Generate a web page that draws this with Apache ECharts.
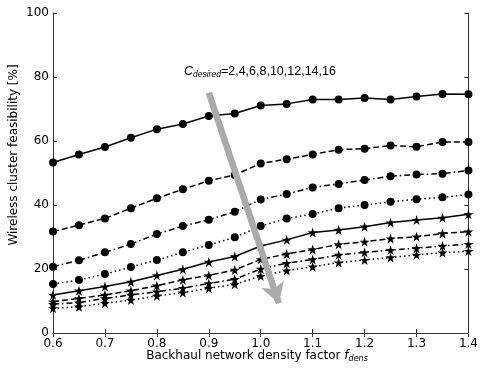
<!DOCTYPE html>
<html><head><meta charset="utf-8">
<script src="https://cdn.jsdelivr.net/npm/echarts@6/dist/echarts.min.js"></script>
<style>html,body{margin:0;padding:0;background:#fff}#c{width:481px;height:369px}</style>
</head><body><div id="c"></div>
<script>
const xs = [0.6,0.65,0.7,0.75,0.8,0.85,0.9,0.95,1.0,1.05,1.1,1.15,1.2,1.25,1.3,1.35,1.4];
const c2  = [53.3,55.8,58.1,61.0,63.7,65.3,67.8,68.6,71.1,71.6,73.0,73.0,73.4,73.0,73.9,74.7,74.6];
const c4  = [31.7,33.7,35.8,39.0,42.1,44.9,47.6,49.4,53.0,54.3,55.8,57.3,57.6,58.6,58.2,59.7,59.7];
const c6  = [20.7,22.7,25.2,27.8,30.9,33.4,35.4,37.9,41.7,43.4,45.5,46.6,47.8,49.0,49.5,49.8,50.8];
const c8  = [15.3,16.6,18.4,20.6,22.8,25.2,27.5,29.9,33.4,35.8,37.2,39.0,40.0,41.0,41.8,42.4,43.3];
const c10 = [11.9,13.2,14.5,16.0,18.0,19.9,22.2,23.9,27.2,29.1,31.4,32.2,33.2,34.5,35.3,36.0,37.1];
const c12 = [9.8,10.8,11.9,13.2,14.8,16.6,18.0,19.7,23.0,24.7,26.1,27.7,28.5,29.5,30.1,31.1,31.7];
const c14 = [9.0,9.5,10.8,11.9,12.9,14.0,15.5,16.8,20.0,21.8,23.0,24.4,25.2,25.9,26.5,27.2,27.8];
const c16 = [7.7,8.2,9.3,10.3,11.6,12.6,14.0,15.2,17.8,19.5,20.7,22.0,22.8,23.6,24.4,25.1,25.6];
const xTicks = [0.6,0.7,0.8,0.9,1.0,1.1,1.2,1.3,1.4];
const yTicks = [0,20,40,60,80,100];
const arrowStart = [0.9, 75.1];
const arrowEnd = [1.035, 9.3];

const STAR = 'path://M50,0 L61,35 L98,35 L68,57 L79,91 L50,70 L21,91 L32,57 L2,35 L39,35 Z';
const DASH = [6,3], DASHDOT = [6,3,1.5,3], DOT = [1.5,3];
const defs = [
  {d:c2, sym:'circle', ls:'solid'},
  {d:c4, sym:'circle', ls:DASH},
  {d:c6, sym:'circle', ls:DASHDOT},
  {d:c8, sym:'circle', ls:DOT},
  {d:c10, sym:STAR, ls:'solid'},
  {d:c12, sym:STAR, ls:DASH},
  {d:c14, sym:STAR, ls:DASHDOT},
  {d:c16, sym:STAR, ls:DOT}
];
const series = defs.map((s,i)=>({
  type:'line', data: xs.map((x,j)=>[x,s.d[j]]),
  symbol: s.sym, symbolSize: s.sym==='circle'?8:10,
  itemStyle:{color:'#000'}, lineStyle:{color:'#000', width:1.5, type:s.ls},
  silent:true, animation:false, z: 3
}));
series.push({
  type:'line', data:[], xAxisIndex:0, yAxisIndex:0, animation:false, z:2,
  markLine:{silent:true, animation:false, symbol:['none','arrow'], symbolSize:[18,20],
    label:{show:false},
    lineStyle:{color:'#aaaaaa', width:6.5, type:'solid'},
    data:[[{coord:arrowStart},{coord:arrowEnd}]]}
});
const axisCommon = {
  axisLine:{lineStyle:{color:'#333', width:1}},
  axisTick:{inside:true, length:4, lineStyle:{color:'#333'}},
  splitLine:{show:false}
};
const chart = echarts.init(document.getElementById('c'));
chart.setOption({
  animation:false,
  grid:{left:53, right:11, top:13, bottom:36},
  xAxis:[
    Object.assign({type:'value', min:0.6, max:1.4, interval:0.1, position:'bottom',
      axisLabel:{color:'#000', fontSize:12, fontFamily:'DejaVu Sans', margin:5,
        formatter:v=>xTicks.some(t=>Math.abs(t-v)<1e-6)?v.toFixed(1):''}}, axisCommon),
    Object.assign({type:'value', min:0.6, max:1.4, interval:0.1, position:'top',
      axisLabel:{show:false}}, axisCommon)
  ],
  yAxis:[
    Object.assign({type:'value', min:0, max:100, interval:20, position:'left',
      axisLabel:{color:'#000', fontSize:12, fontFamily:'DejaVu Sans', margin:4,
        formatter:v=>yTicks.includes(v)?String(v):''}}, axisCommon),
    Object.assign({type:'value', min:0, max:100, interval:20, position:'right',
      axisLabel:{show:false}}, axisCommon)
  ],
  series: series,
  graphic:[
    {type:'text', x:14, y:155, rotation:Math.PI/2, style:{
      text:'Wireless cluster feasibility [%]', fill:'#000', fontSize:12,
      fontFamily:'DejaVu Sans', align:'center', verticalAlign:'middle'}},
    {type:'text', x:257, y:356, style:{
      text:'{n|Backhaul network density factor }{f|f}{s|dens}', align:'center', verticalAlign:'middle',
      rich:{n:{fontSize:12, fontFamily:'DejaVu Sans', fill:'#000'},
            f:{fontSize:12, fontFamily:'DejaVu Sans', fontStyle:'italic', fill:'#000'},
            s:{fontSize:8, fontFamily:'DejaVu Sans', fontStyle:'italic', fill:'#000', padding:[5,0,0,0]}}}},
    {type:'text', x:184, y:72, style:{
      text:'{c|C}{s|desired}{n|=2,4,6,8,10,12,14,16}', align:'left', verticalAlign:'middle',
      rich:{c:{fontSize:12.5, fontFamily:'Liberation Sans', fontStyle:'italic', fill:'#000'},
            s:{fontSize:8.5, fontFamily:'Liberation Sans', fontStyle:'italic', fill:'#000', padding:[6,0,0,0]},
            n:{fontSize:12.5, fontFamily:'Liberation Sans', fill:'#000'}}}}
  ]
});
</script></body></html>
